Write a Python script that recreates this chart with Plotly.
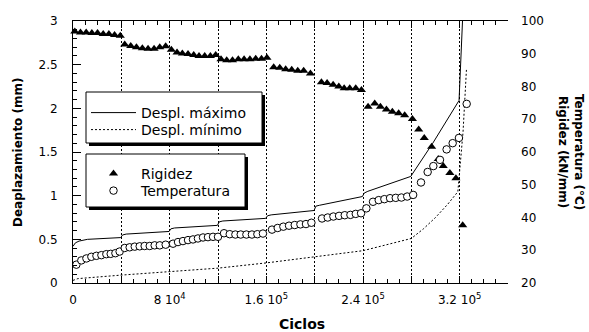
import plotly.graph_objects as go

# ---------------- data ----------------
# Rigidez (kN/mm) vs ciclos
rig_x = [1500, 6200, 10900, 15600, 20300, 25000, 29700, 34400, 39100,
         42800, 47800, 52500, 57400, 62100, 67100, 71800, 76700,
         81400, 86100, 90500, 95200, 99900, 104300, 109000, 113700, 118100,
         122500, 127200, 132000, 136800, 141600, 146400, 151200, 156000, 160500,
         166100, 171100, 176000, 181000, 186000, 190900, 196500,
         205600, 210300, 215300, 220000, 224400, 229000, 234000, 238700,
         244200, 249700, 254400, 259400, 264300, 269500, 274500,
         280900, 286100, 290700, 296800, 302300, 306400, 311900, 316900, 322500]
rig_y = [96.8, 96.5, 96.5, 96.3, 96.3, 96.0, 96.0, 95.7, 95.5,
         92.8, 92.4, 92.0, 91.7, 91.5, 91.5, 92.0, 92.3,
         91.2, 90.4, 90.1, 89.9, 89.6, 89.3, 89.3, 89.3, 89.6,
         88.3, 88.0, 88.0, 88.3, 88.3, 88.3, 88.5, 88.5, 88.8,
         85.9, 85.7, 85.3, 85.1, 84.8, 84.8, 84.0,
         81.3, 81.1, 80.5, 80.0, 79.5, 79.5, 79.5, 78.9,
         73.8, 74.8, 73.8, 73.0, 72.3, 71.8, 71.2,
         70.1, 66.9, 64.3, 61.6, 57.9, 55.7, 53.6, 52.0, 37.6]

# Temperatura (ºC) vs ciclos
tem_x = [2800, 6900, 11100, 15200, 19400, 23500, 27600, 31200, 35100, 38600,
         42800, 46900, 51100, 55200, 59300, 63500, 67600, 71800, 76700,
         82800, 86900, 91000, 95200, 99300, 103400, 107600, 111700, 115900, 120000,
         125000, 129700, 134400, 138800, 143500, 148100, 152600, 157200,
         164700, 169400, 174100, 178800, 183500, 188200, 192800, 197300,
         206100, 210800, 215500, 220200, 224900, 229600, 234000, 238400, 242800,
         248300, 253000, 257700, 262400, 267100, 271800, 276600, 281500,
         288000, 293500, 298200, 303700, 309200, 314200, 319400, 325800]
tem_y = [25.6, 26.9, 27.5, 28.0, 28.3, 28.5, 28.8, 28.9, 29.1, 29.6,
         30.7, 30.9, 31.1, 31.2, 31.3, 31.3, 31.5, 31.5, 31.7,
         32.0, 32.5, 32.8, 33.1, 33.3, 33.6, 33.9, 34.0, 34.1, 34.1,
         35.2, 34.9, 34.8, 34.8, 34.8, 34.8, 34.9, 35.1,
         36.3, 36.8, 37.2, 37.5, 37.7, 37.9, 38.0, 38.4,
         39.7, 40.0, 40.3, 40.5, 40.7, 40.8, 41.1, 41.3, 42.8,
         44.8, 45.3, 45.6, 45.9, 46.0, 46.1, 46.4, 46.9,
         50.7, 53.9, 55.7, 57.6, 60.8, 62.7, 64.3, 74.7]

# Desplazamiento máximo (mm)
dmax_x = [0, 2000, 5000, 12000, 39500, 41000, 44000, 79500, 81000, 84000,
          119500, 121000, 124000, 159500, 161000, 164000, 199500, 201000, 204000,
          239500, 241000, 244000, 279500, 297700, 319500, 322800, 323300]
dmax_y = [0.42, 0.46, 0.48, 0.50, 0.52, 0.55, 0.56, 0.59, 0.62, 0.63,
          0.66, 0.70, 0.71, 0.74, 0.77, 0.78, 0.83, 0.88, 0.89,
          0.99, 1.03, 1.05, 1.22, 1.60, 2.09, 3.05, 3.30]

# Desplazamiento mínimo (mm)
dmin_x = [0, 4000, 39500, 80000, 120000, 160000, 200000, 240000, 280000,
          290000, 300000, 310000, 318500, 322800, 325600]
dmin_y = [0.03, 0.05, 0.09, 0.13, 0.17, 0.23, 0.30, 0.37, 0.51,
          0.62, 0.75, 0.90, 1.045, 1.73, 2.44]

x_tickvals = [0, 40000, 80000, 120000, 160000, 200000, 240000, 280000, 320000, 360000]
x_ticktext = ["0", "", "8 10<sup>4</sup>", "", "1.6 10<sup>5</sup>", "",
              "2.4 10<sup>5</sup>", "", "3.2 10<sup>5</sup>", ""]

# ---------------- layout helpers ----------------
FW, FH = 589, 332
PL, PR, PT, PB = 73, 508, 21, 283
PW, PH = PR - PL, PB - PT


def px(xp):
    return (xp - PL) / PW


def py(yp):
    return (PB - yp) / PH


FONT = "DejaVu Sans"

fig = go.Figure()

fig.add_trace(go.Scatter(x=dmax_x, y=dmax_y, mode="lines", name="Despl. máximo",
                         line=dict(color="black", width=1), legend="legend"))
fig.add_trace(go.Scatter(x=dmin_x, y=dmin_y, mode="lines", name="Despl. mínimo",
                         line=dict(color="black", width=1, dash="2px,2px"), legend="legend2"))
fig.add_trace(go.Scatter(x=rig_x, y=rig_y, mode="markers", name="Rigidez", yaxis="y2",
                         marker=dict(symbol="triangle-up", size=8, color="black"),
                         legend="legend3", cliponaxis=False))
fig.add_trace(go.Scatter(x=tem_x, y=tem_y, mode="markers", name="Temperatura", yaxis="y2",
                         marker=dict(symbol="circle", size=7.5, color="white",
                                     line=dict(color="black", width=1)),
                         legend="legend4", cliponaxis=False))

shapes = []
for (x0, y0, x1, y1) in [(86, 92, 262, 143), (86, 154, 245, 207)]:
    shapes.append(dict(type="rect", xref="paper", yref="paper", layer="above",
                       x0=px(x0 + 3), x1=px(x1 + 3), y0=py(y0 + 3), y1=py(y1 + 3),
                       fillcolor="black", line=dict(width=0)))
    shapes.append(dict(type="rect", xref="paper", yref="paper", layer="above",
                       x0=px(x0), x1=px(x1), y0=py(y0), y1=py(y1),
                       fillcolor="white", line=dict(color="black", width=1)))


def leg(xp, yp):
    return dict(x=px(xp), y=py(yp), bgcolor="rgba(0,0,0,0)", borderwidth=0,
                font=dict(family=FONT, size=14, color="black"),
                xanchor="left", yanchor="top", itemwidth=45)


annotations = [
    dict(text="<b>Deaplazamiento (mm)</b>", textangle=-90, xref="paper", yref="paper",
         x=px(18), y=py(152), xanchor="center", yanchor="middle", showarrow=False,
         font=dict(family=FONT, size=12, color="black")),
    dict(text="<b>Ciclos</b>", xref="paper", yref="paper",
         x=px(302), y=py(324), xanchor="center", yanchor="middle", showarrow=False,
         font=dict(family=FONT, size=14, color="black")),
    dict(text="<b>Temperatura (°C)<br>Rigidez (kN/mm)</b>", textangle=90,
         xref="paper", yref="paper", x=px(571), y=py(152), xanchor="center",
         yanchor="middle", showarrow=False,
         font=dict(family=FONT, size=12, color="black")),
]

fig.update_layout(
    width=FW, height=FH,
    margin=dict(l=PL, r=FW - PR, t=PT, b=FH - PB, pad=0),
    paper_bgcolor="white", plot_bgcolor="white",
    font=dict(family=FONT, size=12, color="black"),
    showlegend=True,
    legend=leg(86, 97),
    legend2=leg(86, 114),
    legend3=leg(86, 158),
    legend4=leg(86, 175),
    xaxis=dict(range=[0, 360000], tickmode="array", tickvals=x_tickvals,
               ticktext=x_ticktext, ticks="inside", ticklen=7, tickcolor="black",
               showline=True, linecolor="black", linewidth=1, mirror="ticks",
               showgrid=True, gridcolor="black", gridwidth=1, griddash="2px,2px",
               zeroline=False, ticklabelstandoff=6,
               minor=dict(tickmode="linear", tick0=0, dtick=10000, ticks="inside",
                          ticklen=4, tickcolor="black", showgrid=False),
               tickfont=dict(family=FONT, size=12, color="black")),
    yaxis=dict(range=[0, 3], dtick=0.5, ticks="inside", ticklen=8, tickcolor="black",
               showline=True, linecolor="black", linewidth=1, mirror=False,
               showgrid=False, zeroline=False, ticklabelstandoff=12,
               minor=dict(dtick=0.1, ticks="inside", ticklen=4, tickcolor="black",
                          showgrid=False),
               tickfont=dict(family=FONT, size=12, color="black")),
    yaxis2=dict(range=[20, 100], dtick=10, overlaying="y", side="right",
                ticks="", showline=False, showgrid=False, zeroline=False,
                ticklabelstandoff=12,
                tickfont=dict(family=FONT, size=12, color="black")),
    shapes=shapes,
    annotations=annotations,
)

fig.write_html("out.html")
